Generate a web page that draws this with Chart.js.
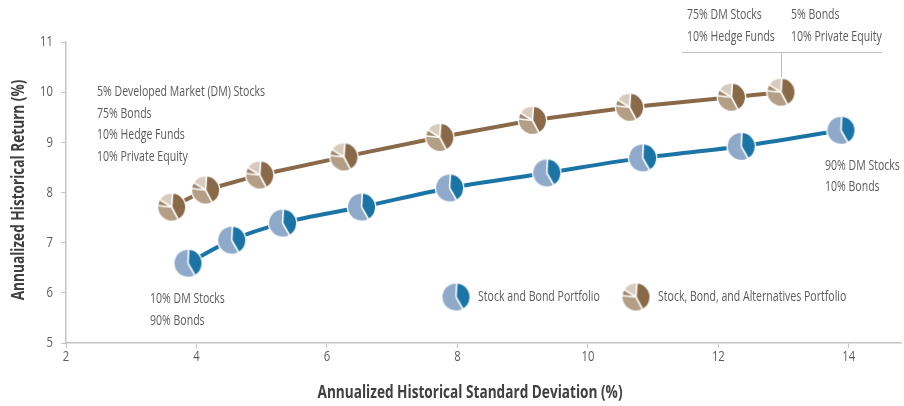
<!DOCTYPE html>
<html><head><meta charset="utf-8">
<script src="https://cdn.jsdelivr.net/npm/chart.js@4/dist/chart.umd.min.js"></script>
<style>html,body{margin:0;padding:0;background:#fff}#wrap{width:904px;height:406px;position:relative}</style>
</head><body><div id="wrap"><canvas id="c"></canvas></div>
<script>
// ---- data ----
const stockBondRisk   = [3.87, 4.54, 5.32, 6.53, 7.88, 9.37, 10.84, 12.35, 13.88];
const stockBondReturn = [6.59, 7.05, 7.39, 7.71, 8.09, 8.39, 8.69, 8.92, 9.24];
const altRisk         = [3.62, 4.14, 4.97, 6.26, 7.73, 9.15, 10.64, 12.20, 12.96];
const altReturn       = [7.71, 8.05, 8.35, 8.71, 9.10, 9.44, 9.70, 9.90, 10.00];
const xTicks = [2, 4, 6, 8, 10, 12, 14];
const yTicks = [5, 6, 7, 8, 9, 10, 11];
const seriesNames = ['Stock and Bond Portfolio', 'Stock, Bond, and Alternatives Portfolio'];
const xTitle = 'Annualized Historical Standard Deviation (%)';
const yTitle = 'Annualized Historical Return (%)';

const FONT = '"Open Sans", "Noto Sans", sans-serif';
const TXT = '#5b5b5b';

// condensed look: horizontal scale factors measured against the reference widths
const mc = document.createElement('canvas').getContext('2d');
mc.font = '14px ' + FONT;
const SX = 168 / mc.measureText('5% Developed Market (DM) Stocks').width;
mc.font = 'bold 17px ' + FONT;
const SXB = 305 / mc.measureText(xTitle).width;

function txt(g, s, x, y, o = {}) {
  const size = o.size || 14, bold = !!o.bold;
  g.save();
  g.font = (bold ? 'bold ' : '') + size + 'px ' + FONT;
  g.fillStyle = o.color || TXT; g.textBaseline = 'middle'; g.textAlign = o.align || 'left';
  g.translate(x, y);
  if (o.rot) g.rotate(o.rot);
  g.scale(o.sx || SX, 1);
  g.fillText(s, 0, 0);
  g.restore();
}

function pieIcon(slices, r) {
  const s = Math.ceil(r * 2 + 4);
  const c = document.createElement('canvas'); c.width = s; c.height = s;
  const g = c.getContext('2d'); const cx = s / 2, cy = s / 2;
  g.beginPath(); g.arc(cx, cy, r + 1.3, 0, Math.PI * 2); g.fillStyle = '#fff'; g.fill();
  slices.forEach(([a, b, col]) => {
    g.beginPath(); g.moveTo(cx, cy);
    g.arc(cx, cy, r, (a - 90) * Math.PI / 180, (b - 90) * Math.PI / 180);
    g.closePath(); g.fillStyle = col; g.fill();
  });
  g.strokeStyle = '#fff'; g.lineWidth = 1.6;
  slices.forEach(([a]) => {
    const t = (a - 90) * Math.PI / 180;
    g.beginPath(); g.moveTo(cx, cy);
    g.lineTo(cx + Math.cos(t) * (r + 1), cy + Math.sin(t) * (r + 1)); g.stroke();
  });
  return c;
}
const blueIcon = pieIcon([[3, 150, '#1b74a6'], [150, 363, '#8fa9ca']], 13.5);
const brownIcon = pieIcon([[4, 152, '#896948'], [152, 276, '#b39e86'], [276, 302, '#9f876d'], [302, 364, '#d7cbbd']], 13.5);

const annot = {
  id: 'annot',
  afterDraw(chart) {
    const g = chart.ctx;
    const xs = chart.scales.x, ys = chart.scales.y;
    // tick labels
    xTicks.forEach(v => txt(g, String(v), xs.getPixelForValue(v), 357, { size: 15, align: 'center' }));
    yTicks.forEach(v => txt(g, String(v), 53, ys.getPixelForValue(v), { size: 15, align: 'right' }));
    // axis titles
    txt(g, xTitle, 470, 393, { size: 17, bold: true, align: 'center', color: '#404040', sx: SXB });
    txt(g, yTitle, 19, 190, { size: 17, bold: true, align: 'center', color: '#404040', sx: SXB, rot: -Math.PI / 2 });
    // annotations
    const lines = (x, y, arr, dy) => arr.forEach((t, i) => txt(g, t, x, y + i * dy));
    lines(97, 92, ['5% Developed Market (DM) Stocks', '75% Bonds', '10% Hedge Funds', '10% Private Equity'], 21.7);
    lines(150, 299, ['10% DM Stocks', '90% Bonds'], 22);
    lines(825, 166, ['90% DM Stocks', '10% Bonds'], 21.5);
    lines(687, 15, ['75% DM Stocks', '10% Hedge Funds'], 22);
    lines(791, 15, ['5% Bonds', '10% Private Equity'], 22);
    g.save();
    g.strokeStyle = '#bdbdbd'; g.lineWidth = 1;
    g.beginPath(); g.moveTo(682, 52.5); g.lineTo(882, 52.5); g.moveTo(781.5, 52.5); g.lineTo(781.5, 77); g.stroke();
    g.restore();
    // legend
    g.drawImage(blueIcon, 456 - blueIcon.width / 2, 297 - blueIcon.height / 2);
    txt(g, chart.data.datasets[0].label, 478, 297);
    g.drawImage(brownIcon, 636 - brownIcon.width / 2, 297 - brownIcon.height / 2);
    txt(g, chart.data.datasets[1].label, 658, 297);
  }
};

new Chart(document.getElementById('c'), {
  type: 'line',
  data: {
    datasets: [
      {
        label: seriesNames[0],
        data: stockBondRisk.map((x, i) => ({ x, y: stockBondReturn[i] })),
        borderColor: '#1b74a6', borderWidth: 4,
        cubicInterpolationMode: 'monotone',
        pointStyle: blueIcon, pointRadius: 13, pointHoverRadius: 13
      },
      {
        label: seriesNames[1],
        data: altRisk.map((x, i) => ({ x, y: altReturn[i] })),
        borderColor: '#896948', borderWidth: 4, tension: 0,
        pointStyle: brownIcon, pointRadius: 13, pointHoverRadius: 13
      }
    ]
  },
  options: {
    responsive: true, maintainAspectRatio: false, animation: false,
    layout: { autoPadding: false, padding: { top: 42, right: 3, left: 0, bottom: 0 } },
    plugins: { legend: { display: false }, tooltip: { enabled: false } },
    scales: {
      x: {
        type: 'linear', min: 2, max: 14.8,
        afterBuildTicks: s => { s.ticks = xTicks.map(v => ({ value: v })); },
        afterFit: s => { s.height = 63; s.paddingLeft = 0; s.paddingRight = 0; },
        grid: { drawOnChartArea: false, drawTicks: true, tickLength: 5, color: '#c4c4c4' },
        border: { display: true, color: '#c4c4c4', width: 1.5 },
        ticks: { display: false },
        title: { display: false }
      },
      y: {
        type: 'linear', min: 5, max: 11,
        afterBuildTicks: s => { s.ticks = yTicks.map(v => ({ value: v })); },
        afterFit: s => { s.width = 66; s.paddingTop = 0; s.paddingBottom = 0; },
        grid: { drawOnChartArea: false, drawTicks: true, tickLength: 5, color: '#c4c4c4' },
        border: { display: true, color: '#c4c4c4', width: 1.5 },
        ticks: { display: false },
        title: { display: false }
      }
    }
  },
  plugins: [annot]
});
</script>
</body></html>
